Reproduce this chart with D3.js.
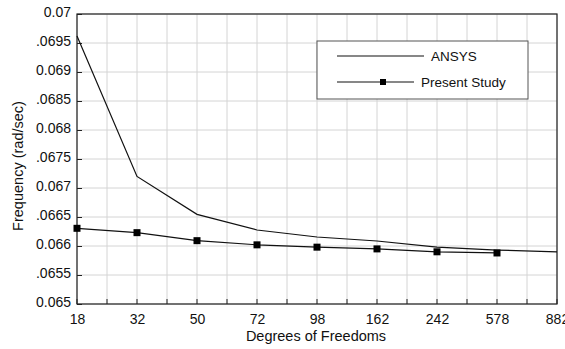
<!DOCTYPE html>
<html>
<head>
<meta charset="utf-8">
<script src="https://cdn.jsdelivr.net/npm/d3@7"></script>
<style>
  body { margin: 0; background: #fff; }
  svg { font-family: "Liberation Sans", Arial, sans-serif; }
  .grid-line { stroke: #d4d4d4; stroke-width: 1; }
</style>
</head>
<body>
<svg id="chart"></svg>
<script>
// degrees of freedom (categories on OX)
const dof = ["18", "32", "50", "72", "98", "162", "242", "578", "882"];
// frequencies, rad/sec
const ansys = [0.06962, 0.06720, 0.066546, 0.066276, 0.066155, 0.066086, 0.06598, 0.06593, 0.0659];
const present = [0.066305, 0.06623, 0.066092, 0.06602, 0.06598, 0.06595, 0.0659, 0.06588];
// tick labels on OY as printed
const yTicks = [0.065, 0.0655, 0.066, 0.0665, 0.067, 0.0675, 0.068, 0.0685, 0.069, 0.0695, 0.07];
const yLabels = ["0.065", ".0655", "0.066", ".0665", "0.067", ".0675", "0.068", ".0685", "0.069", ".0695", "0.07"];

const width = 565, height = 349;
const plotL = 77, plotR = 557, plotT = 14, plotB = 304;
const fs = "14px";

const svg = d3.select("#chart").attr("width", width).attr("height", height);

const scaleX = d3.scalePoint().domain(dof).range([plotL, plotR]);
const scaleY = d3.scaleLinear().domain([0.065, 0.07]).range([plotB, plotT]);

// half-step positions for grid and ticks
const step = scaleX.step();
const halfTicks = [];
for (let i = 0; i < dof.length * 2 - 1; i++) halfTicks.push(plotL + i * step / 2);

// вертикальная сетка
svg.append("g").selectAll("line")
  .data(halfTicks)
  .enter().append("line")
  .classed("grid-line", true)
  .attr("x1", d => d).attr("x2", d => d)
  .attr("y1", plotT).attr("y2", plotB);

// горизонтальная сетка
svg.append("g").selectAll("line")
  .data(yTicks)
  .enter().append("line")
  .classed("grid-line", true)
  .attr("x1", plotL).attr("x2", plotR)
  .attr("y1", d => scaleY(d)).attr("y2", d => scaleY(d));

// оси
const axisX = d3.axisBottom(scaleX).tickSize(0).tickPadding(10);
svg.append("g")
  .attr("transform", `translate(0, ${plotB})`)
  .call(axisX)
  .call(g => g.select(".domain").remove())
  .selectAll("text").style("font-size", fs).attr("fill", "#111");

// small inward ticks at half steps
svg.append("g").selectAll("line")
  .data(halfTicks)
  .enter().append("line")
  .attr("x1", d => d).attr("x2", d => d)
  .attr("y1", plotB).attr("y2", plotB - 5)
  .attr("stroke", "#222");

const axisY = d3.axisLeft(scaleY)
  .tickValues(yTicks)
  .tickFormat((d, i) => yLabels[i])
  .tickSize(-5).tickPadding(6);
svg.append("g")
  .attr("transform", `translate(${plotL}, 0)`)
  .call(axisY)
  .call(g => g.select(".domain").remove())
  .call(g => g.selectAll(".tick line").attr("stroke", "#222"))
  .selectAll("text").style("font-size", fs).attr("fill", "#111").attr("dy", "0.2em");

// рамка
svg.append("rect")
  .attr("x", plotL).attr("y", plotT)
  .attr("width", plotR - plotL).attr("height", plotB - plotT)
  .attr("fill", "none").attr("stroke", "#222").attr("stroke-width", 1.2);

const line = d3.line()
  .x((d, i) => scaleX(dof[i]))
  .y(d => scaleY(d));

svg.append("path")
  .datum(ansys)
  .attr("d", line)
  .attr("fill", "none").attr("stroke", "#111").attr("stroke-width", 1.2);

svg.append("path")
  .datum(present)
  .attr("d", line)
  .attr("fill", "none").attr("stroke", "#111").attr("stroke-width", 1.2);

svg.append("g").selectAll("rect")
  .data(present)
  .enter().append("rect")
  .attr("x", (d, i) => scaleX(dof[i]) - 3.5)
  .attr("y", d => scaleY(d) - 3.5)
  .attr("width", 7).attr("height", 7)
  .attr("fill", "#000");

// легенда
const legend = svg.append("g");
legend.append("rect")
  .attr("x", 317).attr("y", 41).attr("width", 211).attr("height", 58)
  .attr("fill", "#fff").attr("stroke", "#555").attr("stroke-width", 1);
legend.append("line")
  .attr("x1", 337).attr("x2", 424).attr("y1", 56).attr("y2", 56)
  .attr("stroke", "#111").attr("stroke-width", 1.2);
legend.append("text")
  .attr("x", 431).attr("y", 61).text("ANSYS")
  .style("font-size", "13.5px").attr("fill", "#111");
legend.append("line")
  .attr("x1", 337).attr("x2", 414).attr("y1", 82).attr("y2", 82)
  .attr("stroke", "#111").attr("stroke-width", 1.2);
legend.append("rect")
  .attr("x", 380).attr("y", 79).attr("width", 6).attr("height", 6)
  .attr("fill", "#000");
legend.append("text")
  .attr("x", 421).attr("y", 87).text("Present Study")
  .style("font-size", "13.5px").attr("fill", "#111");

// подписи осей
svg.append("text")
  .attr("x", 316).attr("y", 341)
  .attr("text-anchor", "middle")
  .style("font-size", "14.5px").attr("fill", "#111")
  .text("Degrees of Freedoms");

svg.append("text")
  .attr("transform", `translate(23, 166) rotate(-90)`)
  .attr("text-anchor", "middle")
  .style("font-size", "14.5px").attr("fill", "#111")
  .text("Frequency (rad/sec)");
</script>
</body>
</html>
